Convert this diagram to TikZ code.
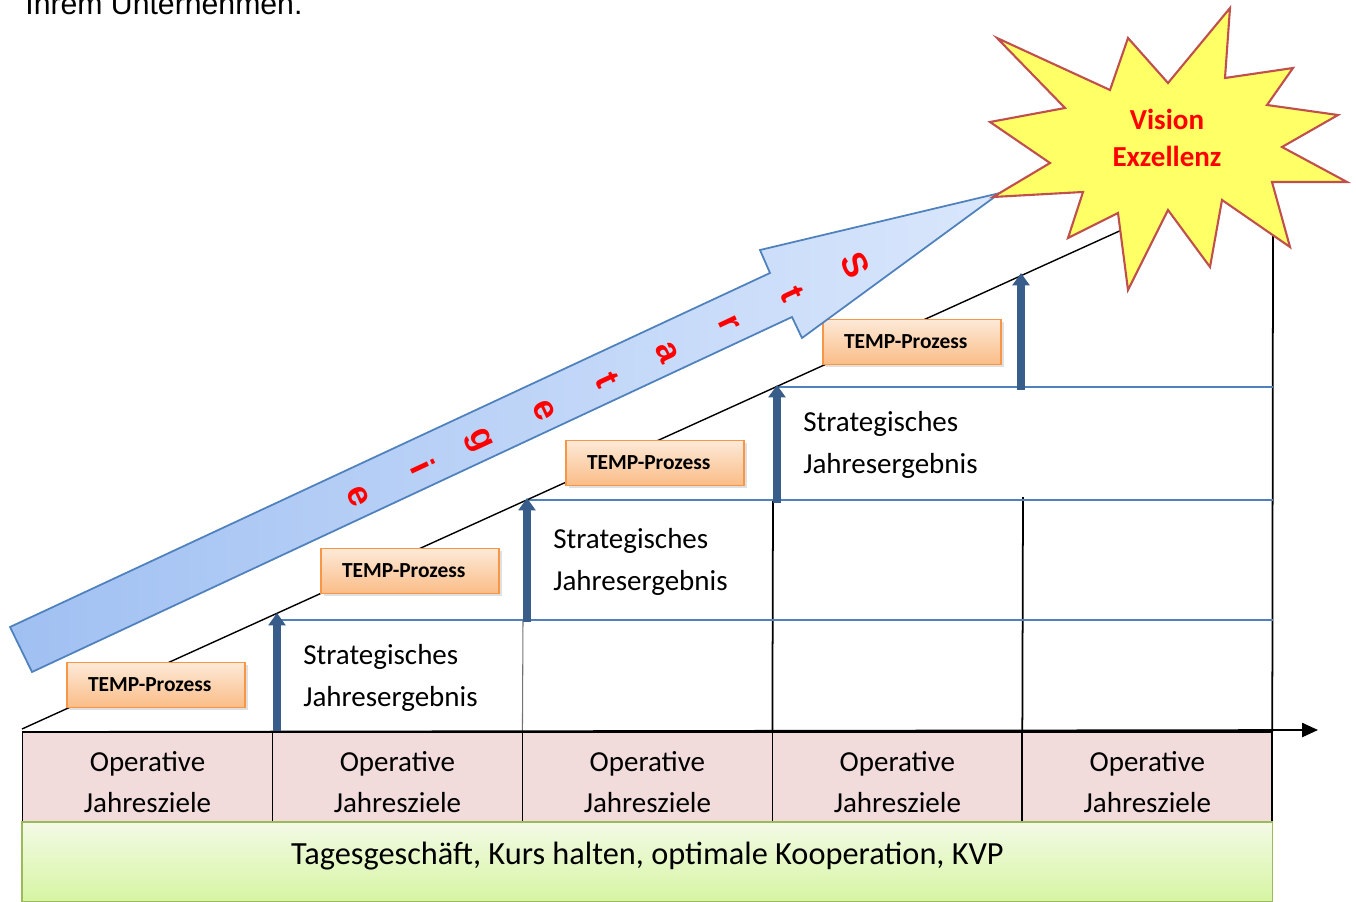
\documentclass[tikz,border=0pt]{standalone}
\usepackage{fontspec}
\setmainfont{Carlito}
\newfontfamily\arialfont{Liberation Sans}
\usetikzlibrary{positioning,arrows.meta,calc,shadows}
\definecolor{cellpink}{RGB}{242,220,219}
\definecolor{barlight}{RGB}{243,250,230}
\definecolor{bardark}{RGB}{214,245,162}
\definecolor{baredge}{RGB}{155,187,89}
\definecolor{templight}{RGB}{253,234,216}
\definecolor{tempdark}{RGB}{250,188,135}
\definecolor{tempedge}{RGB}{247,150,70}
\definecolor{stepblue}{RGB}{56,93,138}
\definecolor{lineblue}{RGB}{79,129,189}
\definecolor{arrowlight}{RGB}{218,231,252}
\definecolor{arrowdark}{RGB}{160,192,242}
\definecolor{staryellow}{RGB}{255,255,102}
\definecolor{staredge}{RGB}{192,80,77}
\definecolor{visionred}{RGB}{255,0,0}
\tikzset{
  opcell/.style={draw=black, line width=1pt, fill=cellpink, minimum width=5cm, minimum height=1.8cm, inner sep=0pt, outer sep=0pt},
  optext/.style={align=center, inner sep=0pt, font=\fontsize{16.5}{23.5}\selectfont},
  basebar/.style={draw=baredge, line width=0.8pt, top color=barlight, bottom color=bardark, minimum width=25.02cm, minimum height=1.6cm, inner sep=0pt, outer sep=0pt, text height=12pt, text depth=9pt, font=\fontsize{18.4}{22}\selectfont},
  tempbox/.style={draw=tempedge, line width=0.8pt, top color=templight, bottom color=tempdark, minimum height=0.9cm, inner ysep=0pt, inner xsep=0.42cm, text width=2.72cm, align=left, font=\fontsize{12.2}{14}\selectfont\bfseries, drop shadow={shadow xshift=1.5pt, shadow yshift=-1.5pt, fill=black!30, opacity=0.4}},
  ergebnis/.style={align=left, anchor=west, inner sep=0pt, font=\fontsize{16.5}{24}\selectfont},
  lift/.style={-{Triangle[width=9.5pt,length=7pt]}, line width=4.2pt, draw=stepblue},
  stepline/.style={draw=lineblue, line width=0.9pt},
  colline/.style={draw=black, line width=1pt},
  timeaxis/.style={-{Triangle[width=8pt,length=9pt]}, line width=1pt, draw=black},
  starline/.style={draw=staredge, line width=1.2pt, fill=staryellow},
  bigarrow/.style={draw=lineblue, line width=1pt, left color=arrowdark, right color=arrowlight}
}
\begin{document}
\begin{tikzpicture}[x=0.02cm, y=-0.02cm]
  \useasboundingbox (0,0) rectangle (1356,902);
  \node[anchor=base west, inner sep=0pt, font=\arialfont\fontsize{17.2}{20}\selectfont] (intro) at (25,15) {Ihrem Unternehmen.};
  % operative row and base
  \node[opcell] (op1) at (147.5,777) {};
  \node[opcell, right=0pt of op1] (op2) {};
  \node[opcell, right=0pt of op2] (op3) {};
  \node[opcell, right=0pt of op3] (op4) {};
  \node[opcell, right=0pt of op4] (op5) {};
  \node[optext] (opt1) at ([yshift=-2.8pt]op1.center) {Operative\\Jahresziele};
  \node[optext] (opt2) at ([yshift=-2.8pt]op2.center) {Operative\\Jahresziele};
  \node[optext] (opt3) at ([yshift=-2.8pt]op3.center) {Operative\\Jahresziele};
  \node[optext] (opt4) at ([yshift=-2.8pt]op4.center) {Operative\\Jahresziele};
  \node[optext] (opt5) at ([yshift=-2.8pt]op5.center) {Operative\\Jahresziele};
  \node[basebar, below=0pt of op3] (base) {Tagesgeschäft, Kurs halten, optimale Kooperation, KVP};
  % staircase
  \coordinate (origin) at (22,729);
  \coordinate (peak) at (1168,209);
  \coordinate (axisend) at (1318,730);
  \coordinate (lift1) at (277,731);  \coordinate (top1) at (277,613);
  \coordinate (lift2) at (527,622);  \coordinate (top2) at (527,498);
  \coordinate (lift3) at (777,503);  \coordinate (top3) at (777,385);
  \coordinate (lift4) at (1021,390); \coordinate (top4) at (1021,273);
  \coordinate (edge1) at (1273,620);
  \coordinate (edge2) at (1273,500);
  \coordinate (edge3) at (1273,387);
  \coordinate (rim) at (1273,235);
  \draw[colline, draw=black!55, line width=0.6pt] (523,620) -- (op2.north east);
  \draw[colline] (773,500) -- (op3.north east);
  \draw[colline] (1023,497) -- (op4.north east);
  \draw[colline] (rim) -- (op5.north east);
  \draw[stepline] (lift1 |- edge1) -- (edge1);
  \draw[stepline] (lift2 |- edge2) -- (edge2);
  \draw[stepline] (lift3 |- edge3) -- (edge3);
  \draw[line width=0.8pt] (origin) -- (peak);
  \draw[timeaxis] (op1.north west) -- (axisend);
  \draw[lift] (lift1) -- (top1);
  \draw[lift] (lift2) -- (top2);
  \draw[lift] (lift3) -- (top3);
  \draw[lift] (lift4) -- (top4);
  \node[ergebnis] (erg1) at (303,678) {Strategisches\\Jahresergebnis};
  \node[ergebnis] (erg2) at (553,562) {Strategisches\\Jahresergebnis};
  \node[ergebnis] (erg3) at (803,445) {Strategisches\\Jahresergebnis};
  \node[tempbox] (temp1) at (156,685) {TEMP-Prozess};
  \node[tempbox] (temp2) at (410,571) {TEMP-Prozess};
  \node[tempbox] (temp3) at (655,463) {TEMP-Prozess};
  \node[tempbox] (temp4) at (912,342) {TEMP-Prozess};
  % strategy arrow
  \shade[bigarrow] (10,627) -- (770,273) -- (760,250) -- (1000,193) -- (802,338) -- (792,317) -- (32,672) -- cycle;
  \node[rotate=-65, align=center, inner sep=0pt, text=visionred, font=\arialfont\bfseries\fontsize{20}{38.8}\selectfont] (strat) at (608,380) {S\\t\\r\\a\\t\\e\\g\\i\\e};
  % vision star
  \draw[starline] (997,38) -- (1110,90) -- (1128,38) -- (1168,83) -- (1230,8) -- (1225,78) -- (1293,68) -- (1267,105) -- (1338,115) -- (1282,147) -- (1347,182) -- (1272,182) -- (1290,247) -- (1222,200) -- (1210,267) -- (1168,210) -- (1128,290) -- (1118,213) -- (1068,238) -- (1083,192) -- (993,197) -- (1050,163) -- (990,122) -- (1065,108) -- cycle;
  \node[align=center, text=visionred, font=\bfseries\fontsize{16.5}{21}\selectfont] (vision) at (1167,138) {Vision\\Exzellenz};
\end{tikzpicture}
\end{document}
